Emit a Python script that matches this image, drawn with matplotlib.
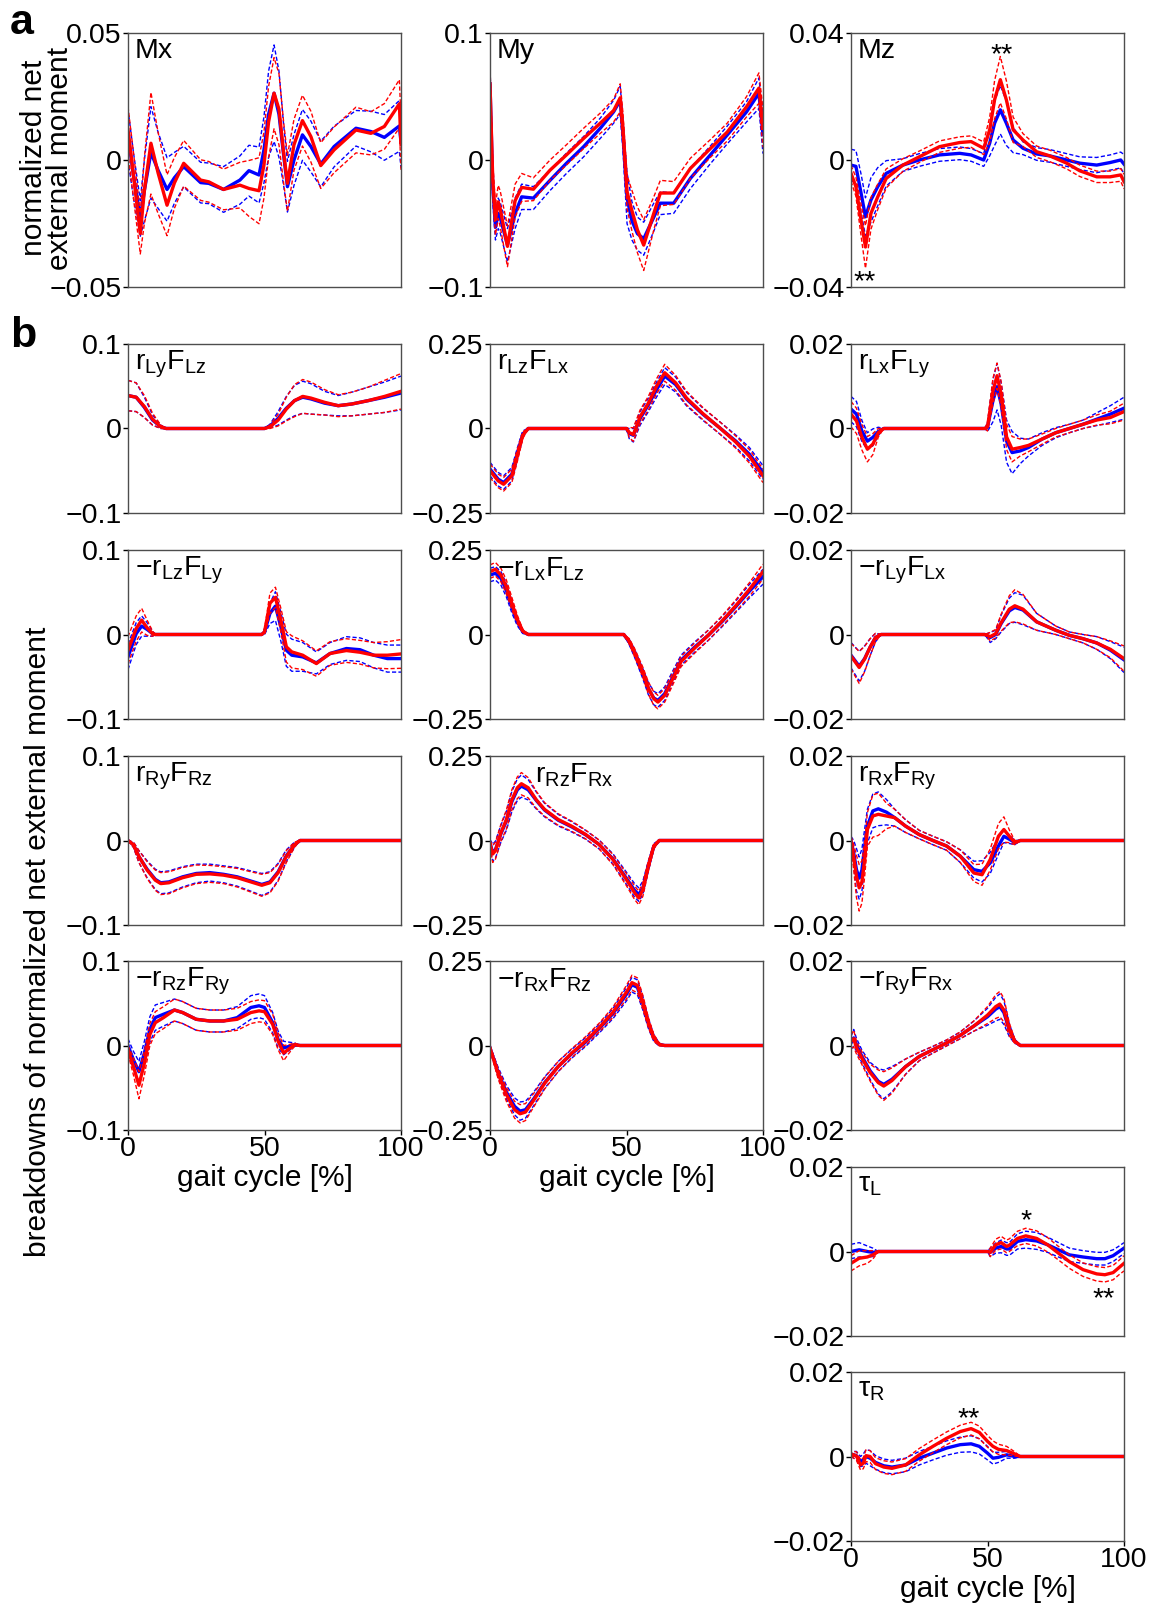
import matplotlib
matplotlib.use("Agg")
import matplotlib.pyplot as plt

plt.rcParams['font.family'] = ['Liberation Sans', 'DejaVu Sans']
plt.rcParams['mathtext.fontset'] = 'custom'
plt.rcParams['mathtext.rm'] = 'Liberation Sans'
plt.rcParams['mathtext.it'] = 'Liberation Sans:italic'
plt.rcParams['mathtext.bf'] = 'Liberation Sans:bold'

# ---- data: gait cycle [%] vs normalized moment (mean and SD, blue / red) ----
mx_x = [0, 2, 4.5, 6, 8.4, 11, 14.3, 17, 20.4, 26.6, 29.6, 35, 41, 44.3, 48, 49.8, 51.5, 53.5,
        55.3, 57, 58.4, 60.8, 63.9, 67, 70.6, 75.5, 83.5, 89, 93.9, 99.4, 100]
mx_blue = [0.010, -0.006, -0.023, -0.012, 0.003, -0.004, -0.0116, -0.007, -0.0026, -0.0089, -0.0092,
           -0.0116, -0.0079, -0.0042, -0.0059, 0.004, 0.018, 0.0263, 0.018, 0.002, -0.0105, 0.0,
           0.0099, 0.0053, -0.0016, 0.0053, 0.0125, 0.0112, 0.0089, 0.0134, 0.007]
mx_blue_sd = [0.010, 0.009, 0.007, 0.012, 0.018, 0.015, 0.0125, 0.010, 0.008, 0.008, 0.008, 0.009,
              0.0095, 0.010, 0.011, 0.013, 0.017, 0.019, 0.017, 0.012, 0.010, 0.010, 0.010, 0.010,
              0.009, 0.008, 0.007, 0.008, 0.009, 0.010, 0.010]
mx_red = [0.012, -0.006, -0.029, -0.012, 0.0066, -0.005, -0.0178, -0.009, -0.0013, -0.0079, -0.0086,
          -0.0116, -0.0099, -0.0112, -0.0121, -0.002, 0.015, 0.0263, 0.020, 0.003, -0.0092, 0.006,
          0.0155, 0.0092, -0.0022, 0.004, 0.0118, 0.0105, 0.0132, 0.0221, 0.006]
mx_red_sd = [0.009, 0.009, 0.008, 0.013, 0.020, 0.016, 0.012, 0.010, 0.009, 0.008, 0.008, 0.008,
             0.009, 0.011, 0.013, 0.013, 0.014, 0.014, 0.014, 0.012, 0.011, 0.010, 0.010, 0.010,
             0.009, 0.009, 0.009, 0.0085, 0.009, 0.0095, 0.010]

my_x = [0, 1, 2, 3, 3.7, 6.4, 9.2, 11.6, 15.9, 22, 28, 34.3, 40.4, 45.3, 47.7, 48.7, 50.2, 52, 54,
        56.3, 60, 62.4, 67.3, 73.4, 80.7, 86.9, 94, 98.5, 100]
my_blue = [0.06, -0.02, -0.053, -0.042, -0.045, -0.067, -0.042, -0.029, -0.030, -0.016, -0.0026,
           0.0105, 0.025, 0.038, 0.047, 0.02, -0.03, -0.048, -0.058, -0.062, -0.045, -0.034, -0.034,
           -0.0145, 0.004, 0.0197, 0.038, 0.0526, 0.02]
my_blue_sd = [0.015, 0.012, 0.010, 0.012, 0.012, 0.013, 0.012, 0.010, 0.009, 0.008, 0.008, 0.008,
              0.008, 0.009, 0.011, 0.012, 0.020, 0.015, 0.013, 0.013, 0.011, 0.009, 0.008, 0.008,
              0.007, 0.007, 0.008, 0.012, 0.015]
my_red = [0.06, -0.015, -0.047, -0.033, -0.038, -0.068, -0.032, -0.0216, -0.023, -0.008, 0.004,
          0.017, 0.029, 0.039, 0.049, 0.025, -0.025, -0.040, -0.055, -0.067, -0.042, -0.026, -0.026,
          -0.0066, 0.009, 0.022, 0.042, 0.0566, 0.025]
my_red_sd = [0.015, 0.013, 0.012, 0.013, 0.014, 0.016, 0.013, 0.011, 0.009, 0.008, 0.008, 0.008,
             0.008, 0.009, 0.011, 0.012, 0.013, 0.016, 0.018, 0.020, 0.013, 0.010, 0.009, 0.008,
             0.007, 0.007, 0.008, 0.012, 0.015]

mz_x = [0, 1.8, 3.7, 5.3, 7.3, 9.8, 12.9, 19, 25, 32.4, 39.8, 44, 48.6, 50.8, 52.6, 54.7, 56.9,
        59.4, 63, 68, 72.8, 79, 83.8, 90, 94.9, 98.8, 100]
mz_blue = [-0.0016, -0.002, -0.0105, -0.0179, -0.0126, -0.0084, -0.0042, -0.0016, 0.0, 0.0016,
           0.0021, 0.0016, 0.0, 0.0053, 0.0116, 0.0158, 0.0116, 0.0063, 0.0037, 0.0019, 0.0013, 0.0,
           -0.001, -0.0016, -0.0008, 0.0, -0.0013]
mz_blue_sd = [0.005, 0.005, 0.006, 0.006, 0.007, 0.006, 0.004, 0.002, 0.002, 0.002, 0.002, 0.002,
              0.002, 0.004, 0.007, 0.0076, 0.007, 0.004, 0.002, 0.002, 0.002, 0.002, 0.002, 0.0024,
              0.0024, 0.0025, 0.003]
mz_red = [-0.0042, -0.0084, -0.019, -0.0274, -0.0168, -0.0116, -0.0058, -0.0016, 0.001, 0.0042,
          0.0055, 0.0058, 0.0037, 0.0095, 0.019, 0.0253, 0.019, 0.0095, 0.0063, 0.0026, 0.0013,
          -0.001, -0.0034, -0.0053, -0.0053, -0.0047, -0.0068]
mz_red_sd = [0.0025, 0.003, 0.005, 0.0067, 0.005, 0.004, 0.003, 0.002, 0.0018, 0.0018, 0.0018,
             0.0018, 0.002, 0.004, 0.006, 0.0073, 0.006, 0.004, 0.002, 0.0018, 0.0018, 0.0018,
             0.0018, 0.0018, 0.0018, 0.002, 0.0023]

# r_Ly F_Lz
lyz_x = [0, 3, 6, 9, 12, 14, 50, 52, 55, 58, 61, 64, 67, 72, 77, 82, 88, 94, 100]
lyz_blue = [0.039, 0.037, 0.025, 0.010, 0.002, 0.0, 0.0, 0.003, 0.012, 0.024, 0.033, 0.037, 0.035,
            0.030, 0.027, 0.029, 0.033, 0.037, 0.042]
lyz_blue_sd = [0.018, 0.017, 0.012, 0.006, 0.002, 0, 0, 0.002, 0.008, 0.014, 0.018, 0.019, 0.018,
               0.014, 0.012, 0.014, 0.016, 0.018, 0.020]
lyz_red = [0.039, 0.037, 0.026, 0.011, 0.002, 0.0, 0.0, 0.002, 0.010, 0.023, 0.033, 0.038, 0.036,
           0.031, 0.027, 0.029, 0.033, 0.038, 0.044]
lyz_red_sd = [0.018, 0.017, 0.013, 0.007, 0.002, 0, 0, 0.002, 0.007, 0.014, 0.019, 0.020, 0.019,
              0.015, 0.013, 0.014, 0.016, 0.019, 0.021]

# r_Lz F_Lx
lzx_x = [0, 3, 5, 8, 10, 12, 14, 50, 51, 52.5, 55, 58, 61, 64, 68, 72, 78, 84, 90, 95, 100]
lzx_blue = [-0.12, -0.15, -0.16, -0.135, -0.076, -0.017, 0, 0, -0.015, -0.02, 0.03, 0.07, 0.115,
            0.155, 0.13, 0.087, 0.042, 0.003, -0.037, -0.076, -0.13]
lzx_red = [-0.125, -0.155, -0.165, -0.14, -0.08, -0.02, 0, 0, -0.012, -0.018, 0.035, 0.075, 0.125,
           0.165, 0.135, 0.09, 0.044, 0.003, -0.04, -0.082, -0.14]
lzx_sd = [0.02, 0.02, 0.02, 0.02, 0.018, 0.01, 0, 0, 0.015, 0.02, 0.02, 0.02, 0.022, 0.025, 0.022,
          0.02, 0.018, 0.018, 0.018, 0.02, 0.02]

# r_Lx F_Ly
lxy_x = [0, 2, 4, 6, 8, 10, 12, 49, 50, 52, 53.5, 55, 57, 59, 62, 65, 70, 75, 80, 85, 90, 95, 100]
lxy_blue = [0.0046, 0.0034, -0.0006, -0.003, -0.0021, -0.0007, 0, 0, 0.0003, 0.0066, 0.0099,
            0.0058, -0.003, -0.0057, -0.0053, -0.0045, -0.0025, -0.001, 0, 0.001, 0.0022, 0.0034,
            0.0048]
lxy_blue_sd = [0.003, 0.003, 0.0025, 0.002, 0.002, 0.001, 0, 0, 0.001, 0.005, 0.0055, 0.005, 0.005,
               0.005, 0.003, 0.002, 0.0015, 0.0012, 0.001, 0.001, 0.0015, 0.002, 0.0026]
lxy_red = [0.0034, 0.0018, -0.0021, -0.0049, -0.0037, -0.001, 0, 0, 0.0004, 0.0089, 0.0125, 0.0081,
           -0.002, -0.0049, -0.0045, -0.004, -0.0025, -0.001, 0, 0.001, 0.002, 0.0026, 0.004]
lxy_red_sd = [0.003, 0.003, 0.003, 0.003, 0.0025, 0.001, 0, 0, 0.001, 0.003, 0.003, 0.003, 0.003,
              0.003, 0.002, 0.0015, 0.0012, 0.001, 0.001, 0.001, 0.0012, 0.0015, 0.002]

# -r_Lz F_Ly
lzy_x = [0, 3, 5, 7, 9, 10, 49, 50, 52, 54, 56, 58, 60, 64, 69, 74, 80, 85, 90, 95, 100]
lzy_blue = [-0.0265, 0.001, 0.010, 0.006, 0.001, 0, 0, 0.003, 0.025, 0.0336, 0.009, -0.0186,
            -0.0245, -0.0265, -0.0336, -0.0225, -0.0166, -0.018, -0.0245, -0.0285, -0.0285]
lzy_blue_sd = [0.015, 0.013, 0.012, 0.008, 0.003, 0, 0, 0.003, 0.012, 0.017, 0.017, 0.019, 0.019,
               0.017, 0.013, 0.013, 0.014, 0.014, 0.015, 0.016, 0.016]
lzy_red = [-0.0186, 0.007, 0.017, 0.008, 0.001, 0, 0, 0.003, 0.037, 0.044, 0.017, -0.0146, -0.0206,
           -0.0245, -0.0344, -0.0225, -0.019, -0.021, -0.0245, -0.0245, -0.023]
lzy_red_sd = [0.016, 0.015, 0.014, 0.009, 0.003, 0, 0, 0.003, 0.012, 0.012, 0.014, 0.018, 0.019,
              0.017, 0.015, 0.014, 0.014, 0.014, 0.015, 0.016, 0.017]

# -r_Lx F_Lz
lxz_x = [0, 2, 4, 6, 8, 10, 12, 14, 49, 51, 53, 56, 58, 60, 61.5, 64, 67, 70, 75, 80, 85, 90, 95, 100]
lxz_blue = [0.176, 0.181, 0.166, 0.131, 0.082, 0.038, 0.008, 0, 0, -0.022, -0.056, -0.116, -0.16,
            -0.188, -0.195, -0.175, -0.125, -0.076, -0.037, -0.002, 0.038, 0.082, 0.128, 0.171]
lxz_red = [0.186, 0.193, 0.176, 0.141, 0.092, 0.045, 0.010, 0, 0, -0.02, -0.054, -0.112, -0.158,
           -0.19, -0.2, -0.18, -0.13, -0.08, -0.04, -0.002, 0.04, 0.085, 0.133, 0.186]
lxz_sd = [0.02, 0.02, 0.02, 0.02, 0.018, 0.012, 0.005, 0, 0, 0.008, 0.012, 0.015, 0.018, 0.02, 0.02,
          0.02, 0.018, 0.015, 0.015, 0.015, 0.015, 0.017, 0.02, 0.022]

# -r_Ly F_Lx
lyx_x = [0, 3, 5, 7, 9, 11, 49, 51, 53, 55, 58, 60, 63, 68, 75, 80, 85, 90, 95, 100]
lyx_blue = [-0.0049, -0.0075, -0.0057, -0.003, -0.0007, 0, 0, -0.0007, 0, 0.0026, 0.0056, 0.0064,
            0.0058, 0.003, 0.001, -0.0002, -0.001, -0.002, -0.0037, -0.006]
lyx_blue_sd = [0.003, 0.0035, 0.003, 0.002, 0.001, 0, 0, 0.0012, 0.001, 0.002, 0.003, 0.0035,
               0.0035, 0.002, 0.001, 0.0008, 0.001, 0.0015, 0.002, 0.003]
lyx_red = [-0.0051, -0.0078, -0.0058, -0.003, -0.0007, 0, 0, -0.0005, 0.0002, 0.0028, 0.006, 0.0068,
           0.006, 0.003, 0.001, -0.0002, -0.001, -0.002, -0.0035, -0.0057]
lyx_red_sd = [0.003, 0.0038, 0.003, 0.002, 0.001, 0, 0, 0.001, 0.001, 0.002, 0.0032, 0.0038, 0.0035,
              0.002, 0.001, 0.0008, 0.001, 0.0015, 0.002, 0.003]

# r_Ry F_Rz
ryz_x = [0, 2, 4, 7, 10, 12, 15, 20, 25, 30, 35, 40, 45, 49, 52, 55, 58, 61, 63, 100]
ryz_blue = [0, -0.005, -0.019, -0.034, -0.046, -0.05, -0.049, -0.043, -0.039, -0.038, -0.04, -0.043,
            -0.048, -0.052, -0.049, -0.037, -0.018, -0.005, 0, 0]
ryz_red = [0, -0.005, -0.019, -0.035, -0.047, -0.051, -0.05, -0.044, -0.040, -0.0395, -0.041,
           -0.044, -0.049, -0.053, -0.05, -0.038, -0.019, -0.005, 0, 0]
ryz_sd = [0, 0.003, 0.007, 0.010, 0.012, 0.013, 0.013, 0.012, 0.011, 0.010, 0.010, 0.011, 0.012,
          0.013, 0.012, 0.010, 0.007, 0.003, 0, 0]

# r_Rz F_Rx
rzx_x = [0, 1, 2, 4, 6, 8, 10, 11.5, 14, 17, 20, 25, 30, 35, 40, 45, 50, 53, 54.5, 56, 58, 60, 62, 100]
rzx_blue = [-0.007, -0.036, -0.027, 0.02, 0.058, 0.115, 0.15, 0.161, 0.15, 0.118, 0.09, 0.06, 0.04,
            0.017, -0.012, -0.054, -0.112, -0.148, -0.16, -0.14, -0.076, -0.017, 0, 0]
rzx_red = [-0.01, -0.04, -0.03, 0.023, 0.062, 0.12, 0.156, 0.168, 0.156, 0.12, 0.092, 0.062, 0.042,
           0.018, -0.012, -0.056, -0.116, -0.155, -0.17, -0.145, -0.076, -0.017, 0, 0]
rzx_sd = [0.01, 0.025, 0.025, 0.025, 0.028, 0.03, 0.032, 0.033, 0.03, 0.025, 0.02, 0.017, 0.015,
          0.013, 0.013, 0.015, 0.018, 0.02, 0.02, 0.02, 0.015, 0.008, 0, 0]

# r_Rx F_Ry
rxy_x = [0, 1, 2, 3, 4, 5, 6, 8, 10, 13, 16, 20, 25, 30, 35, 40, 45, 48, 51, 54, 56, 58, 60, 62, 100]
rxy_blue = [0, -0.003, -0.0069, -0.0089, -0.007, -0.0013, 0.0034, 0.007, 0.0075, 0.0067, 0.0054,
            0.0034, 0.0014, 0, -0.0013, -0.0037, -0.0069, -0.0073, -0.0053, -0.0013, 0.001, 0.0003,
            -0.0005, 0, 0]
rxy_blue_sd = [0.001, 0.003, 0.005, 0.005, 0.005, 0.004, 0.004, 0.004, 0.004, 0.003, 0.002, 0.0015,
               0.001, 0.001, 0.001, 0.0015, 0.002, 0.0025, 0.0025, 0.002, 0.0015, 0.001, 0.0005, 0, 0]
rxy_red = [0, -0.004, -0.0085, -0.0112, -0.0098, -0.0045, 0.0026, 0.0058, 0.0062, 0.0058, 0.0054,
           0.0034, 0.0014, 0, -0.0013, -0.0037, -0.0077, -0.0081, -0.0045, 0.001, 0.0026, 0.001,
           -0.0005, 0, 0]
rxy_red_sd = [0.001, 0.003, 0.005, 0.0055, 0.005, 0.004, 0.004, 0.005, 0.005, 0.003, 0.002, 0.0015,
              0.001, 0.001, 0.001, 0.0015, 0.002, 0.0025, 0.0025, 0.003, 0.003, 0.0015, 0.0005, 0, 0]

# -r_Rz F_Ry
rzy_x = [0, 2, 4, 6, 8, 10, 13, 17, 20, 25, 30, 35, 40, 45, 48, 50, 53, 55, 57, 59, 61, 63, 100]
rzy_blue = [0, -0.017, -0.031, -0.009, 0.019, 0.033, 0.037, 0.042, 0.039, 0.031, 0.029, 0.029,
            0.033, 0.045, 0.047, 0.045, 0.027, 0.007, -0.003, -0.001, 0.001, 0, 0]
rzy_blue_sd = [0.008, 0.010, 0.012, 0.014, 0.015, 0.015, 0.014, 0.013, 0.013, 0.013, 0.013, 0.013,
               0.013, 0.014, 0.014, 0.014, 0.012, 0.010, 0.008, 0.005, 0.002, 0, 0]
rzy_red = [-0.005, -0.025, -0.047, -0.021, 0.013, 0.027, 0.033, 0.042, 0.039, 0.031, 0.029, 0.029,
           0.031, 0.039, 0.041, 0.04, 0.025, 0.005, -0.009, -0.004, 0.001, 0, 0]
rzy_red_sd = [0.005, 0.010, 0.016, 0.014, 0.013, 0.013, 0.013, 0.013, 0.013, 0.013, 0.013, 0.013,
              0.013, 0.013, 0.013, 0.013, 0.012, 0.010, 0.009, 0.005, 0.002, 0, 0]

# -r_Rx F_Rz
rxz_x = [0, 3, 6, 9, 11, 13, 16, 20, 25, 30, 35, 40, 45, 50, 52, 54, 56, 58, 60, 62, 64, 100]
rxz_blue = [-0.007, -0.08, -0.138, -0.18, -0.194, -0.19, -0.158, -0.11, -0.062, -0.024, 0.01, 0.05,
            0.094, 0.152, 0.18, 0.172, 0.125, 0.066, 0.022, 0.003, 0, 0]
rxz_red = [-0.007, -0.084, -0.145, -0.19, -0.202, -0.197, -0.162, -0.112, -0.062, -0.022, 0.013,
           0.053, 0.098, 0.158, 0.186, 0.178, 0.128, 0.068, 0.023, 0.003, 0, 0]
rxz_sd = [0.005, 0.015, 0.02, 0.025, 0.027, 0.025, 0.02, 0.017, 0.015, 0.013, 0.013, 0.013, 0.015,
          0.02, 0.022, 0.022, 0.02, 0.015, 0.01, 0.004, 0, 0]

# -r_Ry F_Rx
ryx_x = [0, 1, 2, 4, 7, 10, 12, 15, 20, 25, 30, 35, 40, 45, 50, 53, 54.5, 56, 58, 60, 62, 100]
ryx_blue = [0.0006, 0.0018, 0.0002, -0.0026, -0.006, -0.0085, -0.0092, -0.008, -0.005, -0.0026,
            -0.001, 0.0006, 0.0024, 0.0046, 0.0068, 0.0086, 0.0092, 0.0078, 0.0036, 0.001, 0, 0]
ryx_red = [0.001, 0.0016, -0.0005, -0.003, -0.0064, -0.0088, -0.0096, -0.0083, -0.005, -0.0026,
           -0.001, 0.0006, 0.0024, 0.0046, 0.0072, 0.0092, 0.0098, 0.0084, 0.0038, 0.001, 0, 0]
ryx_sd = [0.0015, 0.002, 0.0015, 0.0015, 0.002, 0.003, 0.0034, 0.003, 0.0018, 0.001, 0.0008, 0.0007,
          0.0008, 0.0012, 0.002, 0.0028, 0.003, 0.0028, 0.0015, 0.0005, 0, 0]

# tau_L
tl_x = [0, 3, 6, 8, 10, 50, 51, 53, 55, 57, 58, 61, 64, 68, 72, 76, 80, 85, 90, 93, 96, 98, 100]
tl_blue = [0, 0.0004, 0, -0.0002, 0, 0, -0.0002, 0.0008, 0.0012, 0.0006, 0.0006, 0.0024, 0.0028,
           0.0025, 0.0016, 0.0004, -0.0008, -0.0013, -0.0017, -0.0017, -0.001, -0.0001, 0.0008]
tl_blue_sd = [0.0017, 0.0017, 0.0013, 0.001, 0, 0, 0.001, 0.0012, 0.0015, 0.0015, 0.0015, 0.0018,
              0.002, 0.002, 0.0018, 0.0017, 0.0016, 0.0015, 0.0015, 0.0015, 0.0014, 0.0013, 0.0013]
tl_red = [-0.0028, -0.0016, -0.0013, -0.0008, 0, 0, -0.0002, 0.0016, 0.0021, 0.0012, 0.0015, 0.0031,
          0.0037, 0.0031, 0.0016, -0.0004, -0.0024, -0.0043, -0.0053, -0.0055, -0.005, -0.0039,
          -0.0028]
tl_red_sd = [0.0018, 0.0018, 0.0015, 0.001, 0, 0, 0.001, 0.0013, 0.0015, 0.0015, 0.0015, 0.0017,
             0.0018, 0.0018, 0.0017, 0.0016, 0.0016, 0.0016, 0.0017, 0.0017, 0.0017, 0.0017, 0.0018]

# tau_R
tr_x = [0, 1, 2, 3.5, 4.5, 5.5, 7, 9, 12, 15, 20, 25, 30, 35, 40, 44, 47, 50, 52, 54, 57, 60, 62, 100]
tr_blue = [0, 0.0004, 0.0002, -0.0012, -0.0008, 0, -0.0004, -0.0014, -0.0022, -0.0025, -0.002,
           -0.0004, 0.0008, 0.002, 0.0028, 0.003, 0.0024, 0.0008, -0.0004, -0.0002, 0.0004, 0, 0, 0]
tr_blue_sd = [0, 0.0008, 0.001, 0.0012, 0.0014, 0.0016, 0.0018, 0.0016, 0.0016, 0.0016, 0.0016,
              0.0016, 0.0016, 0.0017, 0.0018, 0.0019, 0.0018, 0.0016, 0.0014, 0.0012, 0.0008,
              0.0004, 0, 0]
tr_red = [0, 0.0004, 0.0001, -0.002, -0.0016, 0.0002, 0, -0.0017, -0.0025, -0.0028, -0.002, 0.0004,
          0.0024, 0.0043, 0.0059, 0.0066, 0.0057, 0.0036, 0.0024, 0.0017, 0.0014, 0.0006, 0, 0]
tr_red_sd = [0, 0.0008, 0.001, 0.0012, 0.0013, 0.0014, 0.0014, 0.0014, 0.0015, 0.0015, 0.0015,
             0.0015, 0.0015, 0.0015, 0.0015, 0.0015, 0.0015, 0.0014, 0.0013, 0.0012, 0.001, 0.0005,
             0, 0]

# significance marks: (panel, x [%], y, text)
stars = [('Mz', 55, 0.033, '**'), ('Mz', 5, -0.0385, '**'),
         ('tl', 64, 0.0071, '*'), ('tl', 92.5, -0.0113, '**'),
         ('tr', 43, 0.0088, '**')]

BLUE = '#0000ff'
RED = '#ff0000'
W, H = 1167, 1610
FS = 20.5
LFS = 21.5

fig = plt.figure(figsize=(W / 100, H / 100), dpi=100)


def add_panel(left, top, width, height, ylim, label, x, b, bsd, r, rsd,
              xlabel=False, label_x=0.025):
    ax = fig.add_axes([left / W, 1 - (top + height) / H, width / W, height / H])
    for mean, sd, c in ((b, bsd, BLUE), (r, rsd, RED)):
        up = [m + s for m, s in zip(mean, sd)]
        lo = [m - s for m, s in zip(mean, sd)]
        ax.plot(x, up, '--', color=c, lw=1.0, dashes=(3, 1.6))
        ax.plot(x, lo, '--', color=c, lw=1.0, dashes=(3, 1.6))
        ax.plot(x, mean, '-', color=c, lw=2.4)
    ax.set_xlim(0, 100)
    ax.set_ylim(-ylim, ylim)
    ax.set_yticks([-ylim, 0, ylim])
    ax.set_yticklabels([('%g' % v).replace('-', '\u2212') for v in (-ylim, 0, ylim)])
    ax.tick_params(axis='y', labelsize=FS, length=3.5, width=1, pad=1)
    if xlabel:
        ax.set_xticks([0, 50, 100])
        ax.set_xticklabels(['0', '50', '100'])
        ax.tick_params(axis='x', labelsize=FS, length=3.5, width=1, pad=1)
        ax.set_xlabel('gait cycle [%]', fontsize=LFS, labelpad=1)
    else:
        ax.set_xticks([])
    for sp in ax.spines.values():
        sp.set_color('0.3')
        sp.set_linewidth(1.0)
    ax.text(label_x, 1 - 5 / height, label, transform=ax.transAxes, fontsize=FS,
            va='top', ha='left')
    return ax


cols = [128, 490, 851]
cw = 273
rows_b = [344, 550, 756, 961, 1167, 1372]
bh = 169

axes = {}
axes['Mx'] = add_panel(cols[0], 33, cw, 254, 0.05, 'Mx', mx_x, mx_blue, mx_blue_sd, mx_red, mx_red_sd)
axes['My'] = add_panel(cols[1], 33, cw, 254, 0.1, 'My', my_x, my_blue, my_blue_sd, my_red, my_red_sd)
axes['Mz'] = add_panel(cols[2], 33, cw, 254, 0.04, 'Mz', mz_x, mz_blue, mz_blue_sd, mz_red, mz_red_sd)

m = '\u2212'
add_panel(cols[0], rows_b[0], cw, bh, 0.1, r'$\mathregular{r_{Ly}F_{Lz}}$',
          lyz_x, lyz_blue, lyz_blue_sd, lyz_red, lyz_red_sd)
add_panel(cols[1], rows_b[0], cw, bh, 0.25, r'$\mathregular{r_{Lz}F_{Lx}}$',
          lzx_x, lzx_blue, lzx_sd, lzx_red, lzx_sd)
add_panel(cols[2], rows_b[0], cw, bh, 0.02, r'$\mathregular{r_{Lx}F_{Ly}}$',
          lxy_x, lxy_blue, lxy_blue_sd, lxy_red, lxy_red_sd)

add_panel(cols[0], rows_b[1], cw, bh, 0.1, m + r'$\mathregular{r_{Lz}F_{Ly}}$',
          lzy_x, lzy_blue, lzy_blue_sd, lzy_red, lzy_red_sd)
add_panel(cols[1], rows_b[1], cw, bh, 0.25, m + r'$\mathregular{r_{Lx}F_{Lz}}$',
          lxz_x, lxz_blue, lxz_sd, lxz_red, lxz_sd)
add_panel(cols[2], rows_b[1], cw, bh, 0.02, m + r'$\mathregular{r_{Ly}F_{Lx}}$',
          lyx_x, lyx_blue, lyx_blue_sd, lyx_red, lyx_red_sd)

add_panel(cols[0], rows_b[2], cw, bh, 0.1, r'$\mathregular{r_{Ry}F_{Rz}}$',
          ryz_x, ryz_blue, ryz_sd, ryz_red, ryz_sd)
add_panel(cols[1], rows_b[2], cw, bh, 0.25, r'$\mathregular{r_{Rz}F_{Rx}}$',
          rzx_x, rzx_blue, rzx_sd, rzx_red, rzx_sd, label_x=0.165)
add_panel(cols[2], rows_b[2], cw, bh, 0.02, r'$\mathregular{r_{Rx}F_{Ry}}$',
          rxy_x, rxy_blue, rxy_blue_sd, rxy_red, rxy_red_sd)

add_panel(cols[0], rows_b[3], cw, bh, 0.1, m + r'$\mathregular{r_{Rz}F_{Ry}}$',
          rzy_x, rzy_blue, rzy_blue_sd, rzy_red, rzy_red_sd, xlabel=True)
add_panel(cols[1], rows_b[3], cw, bh, 0.25, m + r'$\mathregular{r_{Rx}F_{Rz}}$',
          rxz_x, rxz_blue, rxz_sd, rxz_red, rxz_sd, xlabel=True)
add_panel(cols[2], rows_b[3], cw, bh, 0.02, m + r'$\mathregular{r_{Ry}F_{Rx}}$',
          ryx_x, ryx_blue, ryx_sd, ryx_red, ryx_sd)

axes['tl'] = add_panel(cols[2], rows_b[4], cw, bh, 0.02, r'$\mathregular{τ_L}$',
                       tl_x, tl_blue, tl_blue_sd, tl_red, tl_red_sd)
axes['tr'] = add_panel(cols[2], rows_b[5], cw, bh, 0.02, r'$\mathregular{τ_R}$',
                       tr_x, tr_blue, tr_blue_sd, tr_red, tr_red_sd, xlabel=True)

for key, sx, sy, s in stars:
    axes[key].text(sx, sy, s, fontsize=FS, ha='center', va='center')

fig.text(47 / W, 1 - 158 / H, 'normalized net\nexternal moment', rotation=90,
         fontsize=LFS, ha='center', va='center', multialignment='center', linespacing=0.95)
fig.text(38 / W, 1 - 942 / H, 'breakdowns of normalized net external moment', rotation=90,
         fontsize=LFS, ha='center', va='center')
fig.text(10 / W, 1 - 3 / H, 'a', fontsize=31, fontweight='bold', va='top', ha='left')
fig.text(10 / W, 1 - 316 / H, 'b', fontsize=31, fontweight='bold', va='top', ha='left')

fig.savefig('out.png', dpi=100)
